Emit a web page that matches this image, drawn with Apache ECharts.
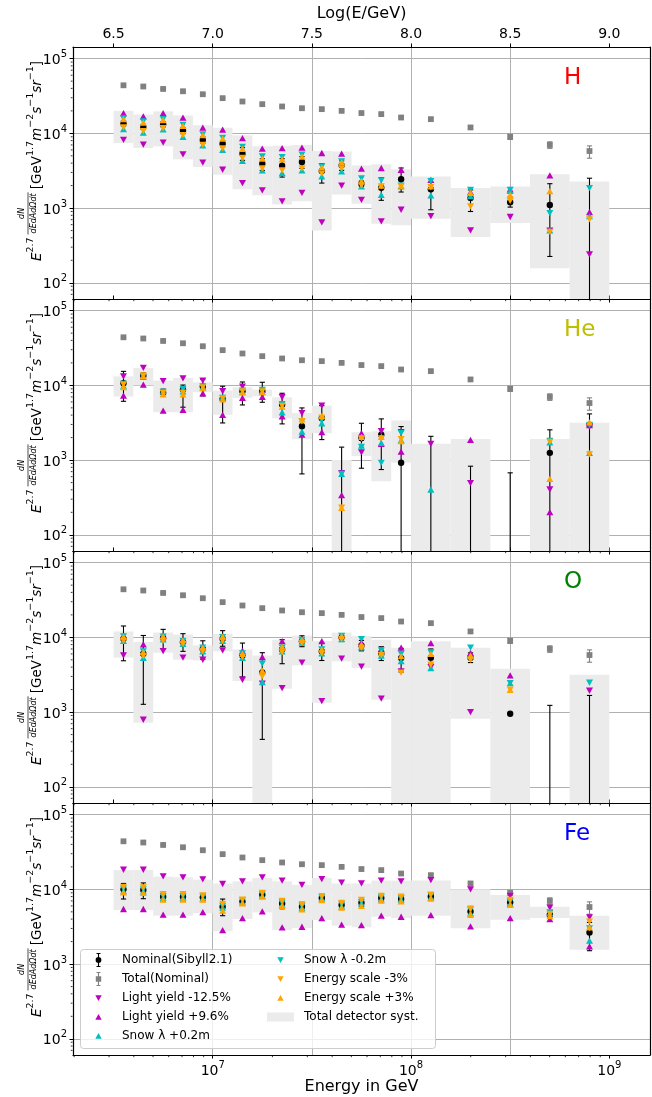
<!DOCTYPE html>
<html><head><meta charset="utf-8">
<script src="https://cdn.jsdelivr.net/npm/echarts@6/dist/echarts.min.js"></script>
<style>html,body{margin:0;padding:0;background:#fff}#c{width:652px;height:1097px}</style>
</head><body><div id="c"></div><script>
// ---------------- data ----------------
const binCenters = [6.55,6.65,6.75,6.85,6.95,7.05,7.15,7.25,7.35,7.45,7.55,7.65,7.75,7.85,7.95,8.1,8.3,8.5,8.7,8.9];
const binLo = [6.5,6.6,6.7,6.8,6.9,7.0,7.1,7.2,7.3,7.4,7.5,7.6,7.7,7.8,7.9,8.0,8.2,8.4,8.6,8.8];
const binHi = [6.6,6.7,6.8,6.9,7.0,7.1,7.2,7.3,7.4,7.5,7.6,7.7,7.8,7.9,8.0,8.2,8.4,8.6,8.8,9.0];
const topTickValues = [6.5,7.0,7.5,8.0,8.5,9.0];
const minorMultipliers = [2,3,4,5,6,7,8,9];
const minorDecadesY = [10,100,1000,10000];
const minorDecadesX = [1e6,1e7,1e8];

const total   = [44000,42400,39300,36600,33400,29600,26700,24600,22900,21700,21100,20000,18700,18100,16300,15500,12000,9000,7000,5800];
const totalLo = [43200,41600,38600,35900,32800,29100,26200,24100,22400,21200,20600,19500,18200,17600,15800,15000,11500,8300,6300,4650];
const totalHi = [44800,43200,40000,37300,34000,30100,27200,25100,23400,22200,21600,20500,19200,18600,16800,16000,12500,9700,7700,6800];

const H_nominal   = [13600,12200,13200,10900,8150,7280,5340,3930,3690,4130,3130,3730,2120,1870,2440,1780,1360,1200,1100,30];
const H_nominalLo = [12500,11300,12200,9900,7400,6600,4350,3190,2600,3400,2160,3200,1950,1270,1640,950,900,1030,225,1];
const H_nominalHi = [14800,13200,14300,11900,9000,8000,6430,4580,4580,4900,3930,4300,2300,2550,3440,2470,1750,1400,2120,2510];
const H_lyMinus   = [8200,7050,7500,5240,4050,3260,2160,1730,1230,1600,643,2000,1290,662,950,781,502,760,500,240];
const H_lyPlus    = [18700,16900,18700,16200,11900,11200,8650,6230,6360,6430,5460,5350,3370,3440,3260,2390,1640,1780,2740,880];
const H_snowPlus  = [11400,10200,11300,9000,6900,6000,4300,3200,2950,3200,2650,3100,1950,1500,1950,1480,1450,1700,502,780];
const H_snowMinus = [15800,14500,15500,13000,9700,8700,6600,4900,4800,5200,3600,4200,2500,2350,2000,2300,1750,1750,857,1850];
const H_esMinus   = [12000,10700,11700,9500,7000,6300,4700,3400,3200,3400,2900,3400,2000,1950,1950,1900,1050,1250,480,705];
const H_esPlus    = [15500,13900,15100,12600,9500,8500,6200,4600,4500,4900,3500,4100,2300,2000,2000,1950,1600,1500,1690,60];
const H_systLo    = [7400,6370,6700,4490,3540,2790,1780,1480,1120,1230,502,1520,1140,617,587,720,409,631,156,1];
const H_systHi    = [20000,17900,19700,17400,12800,11900,9400,6700,6840,6980,5800,5740,3730,3850,3300,2650,1850,1950,2830,2270];

const He_nominal   = [10700,13500,8000,8770,9620,6590,8340,8430,5530,2840,3630,30,1960,2190,919,30,30,30,1250,2960];
const He_nominalLo = [6120,12300,7100,5100,7230,3140,5470,5940,3050,653,1880,1,778,747,1,1,1,1,1,1];
const He_nominalHi = [15400,14600,8900,10100,12100,9730,11100,11000,7840,4990,5360,1490,3110,3560,2810,2080,828,675,2540,4150];
const He_lyMinus   = [13200,17100,11400,12400,11600,8340,9620,7450,6930,4240,5360,667,1270,2430,2370,1650,490,null,404,2800];
const He_lyPlus    = [7300,10200,4590,4690,7840,4030,6790,7000,3860,2190,2360,339,2290,1650,1300,null,1860,null,201,2950];
const He_snowPlus  = [9800,13000,8400,8300,9500,6900,8100,8200,4370,2410,3110,653,1560,1700,1850,404,null,null,1730,1250];
const He_snowMinus = [10500,13200,8200,8900,9700,6800,8500,8700,5600,3300,3400,653,1500,919,2300,null,null,null,1800,2950];
const He_esMinus   = [10200,13600,7900,8000,9400,6700,8300,8300,5300,3310,3700,230,1950,1950,1900,null,null,null,1750,1190];
const He_esPlus    = [9500,13300,7600,7600,9200,6500,8100,8100,5200,3500,3900,230,2050,2050,1800,null,null,null,561,3200];
const He_systLo    = [7080,10000,4370,4370,8090,4030,6790,7140,3630,1900,2290,1,1130,521,919,1,1,null,1,1];
const He_systHi    = [13200,17100,11600,12600,11000,8510,9440,8770,6930,4280,5360,1000,2360,2430,3380,1650,1920,null,1920,3150];

const O_nominal   = [9600,6040,9800,8670,6980,9600,5740,3400,6900,8840,6500,10000,7820,6040,5280,5350,5350,950,30,30];
const O_nominalLo = [4860,1270,7040,6500,5100,7600,2950,431,4440,7500,4900,8800,6600,4900,3440,4400,4600,null,1,1];
const O_nominalHi = [14200,10600,12800,11200,9000,12300,8390,6240,9310,10500,8400,11200,9100,7500,7130,7000,6200,null,1230,1670];
const O_lyMinus   = [5740,789,6560,5350,5020,6700,2710,2400,2090,4580,1400,5180,4050,1510,3500,4000,1000,null,null,1930];
const O_lyPlus    = [10500,8050,10500,9400,7600,10300,6600,5460,8930,9500,8930,10500,8500,7000,7280,8390,6200,3100,null,null];
const O_snowPlus  = [9000,5300,9400,8200,6500,9000,5300,2520,6500,8500,6100,9500,7400,5700,4800,3890,5600,2440,null,null];
const O_snowMinus = [10300,6500,10200,9000,7300,10100,6100,4440,7300,9200,6900,10500,9500,6700,6000,6300,7280,2440,null,2470];
const O_esMinus   = [8900,5600,9000,8200,6500,9000,5500,3000,6300,8400,6100,9500,7200,5800,3370,4300,5000,1990,null,null];
const O_esPlus    = [10200,6400,10300,9100,7300,10200,6000,3600,7500,9200,6900,10400,8000,6200,5600,6000,5700,1990,null,null];
const O_systLo    = [5350,719,6240,5020,4920,6500,2600,1,2060,4220,1330,4780,3890,1460,1,1,815,1,null,1];
const O_systHi    = [12000,8670,11600,10900,7820,11200,6900,5740,9310,10600,8930,11600,10400,9310,7280,8840,7280,3800,null,3160];

const Fe_nominal   = [10000,9800,7980,7980,7820,5860,6900,8490,6490,5860,7650,6170,6620,7650,7430,8050,5070,6700,4580,2650];
const Fe_nominalLo = [7430,7500,6900,6900,7100,4440,6200,7700,5500,5100,7200,5600,5900,7000,6800,7400,4300,6100,4100,1510];
const Fe_nominalHi = [12000,12200,9300,9300,8700,7420,7700,9300,7400,6700,8100,6800,7300,8300,8100,8700,5900,7300,5200,3610];
const Fe_lyMinus   = [18300,18300,14900,14500,13600,11800,12800,14500,13100,11500,13700,12300,12000,13100,12800,13300,10000,8200,5700,4220];
const Fe_lyPlus    = [5460,5460,4580,4580,4970,2850,4130,5070,3100,3160,4130,3370,3330,4440,4300,4530,3190,4130,4000,1730];
const Fe_snowPlus  = [9500,9400,7700,7700,7600,5700,6700,8200,6200,5700,7500,5900,6500,7400,7300,7800,4800,6400,4800,2060];
const Fe_snowMinus = [10200,10000,8100,8100,8000,6000,7100,8700,6600,6000,7800,6300,6800,7800,7600,8300,5300,6900,4900,3000];
const Fe_esMinus   = [10800,10600,8600,8600,8300,6400,7300,9000,7000,6300,8100,6600,7200,8200,8000,8500,5500,7200,4700,3700];
const Fe_esPlus    = [9100,9000,7300,7300,7300,5200,6500,8000,6000,5400,7200,5700,6000,7100,6900,7500,4600,6200,4400,3100];
const Fe_systLo    = [5290,5290,4440,4440,4780,2740,4010,4920,2850,3030,3880,3260,3100,4300,4130,4440,3010,3930,4130,1560];
const Fe_systHi    = [18100,18100,14800,14500,13500,12000,12800,14200,12800,11500,14200,12000,12000,13100,13100,13100,10000,8390,5860,4440];

const panelLabels = ['H','He','O','Fe'];
const panelLabelColors = ['#ff0000','#bfbf00','#008000','#0000ff'];

const N_NOM = 'Nominal(Sibyll2.1)', N_TOT = 'Total(Nominal)', N_LYM = 'Light yield -12.5%', N_LYP = 'Light yield +9.6%',
      N_SNP = 'Snow λ +0.2m', N_SNM = 'Snow λ -0.2m', N_ESM = 'Energy scale -3%', N_ESP = 'Energy scale +3%', N_SYS = 'Total detector syst.';

// ---------------- layout/style ----------------
const FONT = 'DejaVu Sans';
const MAGENTA = '#bf00bf', CYAN = '#00bfbf', ORANGE = '#ffa500', GRAY = '#808080', BOXC = '#ebebeb';
const X_MIN_LOG = 6.2954, X_MAX_LOG = 9.2051;
const X_MIN = Math.pow(10, X_MIN_LOG), X_MAX = Math.pow(10, X_MAX_LOG);
const Y_MIN = Math.pow(10, 1.783), Y_MAX = Math.pow(10, 5.156);
const GRID_LEFT = 73, GRID_W = 577, GRID_H = 252, GRID_TOPS = [47, 299, 551, 803];

const panels = [
  {nominal:H_nominal, nominalLo:H_nominalLo, nominalHi:H_nominalHi, lyMinus:H_lyMinus, lyPlus:H_lyPlus, snowPlus:H_snowPlus, snowMinus:H_snowMinus, esMinus:H_esMinus, esPlus:H_esPlus, systLo:H_systLo, systHi:H_systHi},
  {nominal:He_nominal, nominalLo:He_nominalLo, nominalHi:He_nominalHi, lyMinus:He_lyMinus, lyPlus:He_lyPlus, snowPlus:He_snowPlus, snowMinus:He_snowMinus, esMinus:He_esMinus, esPlus:He_esPlus, systLo:He_systLo, systHi:He_systHi},
  {nominal:O_nominal, nominalLo:O_nominalLo, nominalHi:O_nominalHi, lyMinus:O_lyMinus, lyPlus:O_lyPlus, snowPlus:O_snowPlus, snowMinus:O_snowMinus, esMinus:O_esMinus, esPlus:O_esPlus, systLo:O_systLo, systHi:O_systHi},
  {nominal:Fe_nominal, nominalLo:Fe_nominalLo, nominalHi:Fe_nominalHi, lyMinus:Fe_lyMinus, lyPlus:Fe_lyPlus, snowPlus:Fe_snowPlus, snowMinus:Fe_snowMinus, esMinus:Fe_esMinus, esPlus:Fe_esPlus, systLo:Fe_systLo, systHi:Fe_systHi}
];

const minorY = [];
minorDecadesY.forEach(d => minorMultipliers.forEach(m => { const v = d*m; if (v > Y_MIN && v < Y_MAX) minorY.push(v); }));
const minorX = [];
minorDecadesX.forEach(d => minorMultipliers.forEach(m => { const v = d*m; if (v > X_MIN && v < X_MAX) minorX.push(v); }));

function powLabel(v) {
  const e = Math.log10(v), r = Math.round(e);
  if (Math.abs(e - r) > 1e-6) return '';
  return '{b|10}{s|' + r + '}';
}
const powRich = {
  b: {fontSize: 14, fontFamily: FONT, color: '#000', lineHeight: 18, verticalAlign: 'bottom'},
  s: {fontSize: 10, fontFamily: FONT, color: '#000', lineHeight: 18, verticalAlign: 'top'}
};

// ---------------- series ----------------
function E(c) { return Math.pow(10, c); }

function systSeries(gi, lo, hi) {
  const data = binCenters.map((c, k) => [E(binLo[k]), E(binHi[k]), lo[k], hi[k]]).filter(d => d[2] != null && d[3] != null);
  return {
    type: 'custom', name: N_SYS, xAxisIndex: 2*gi, yAxisIndex: 2*gi, clip: true, silent: true,
    itemStyle: {color: BOXC}, dimensions: ['x0','x1','y0','y1'], encode: {x: [0,1], y: [2,3]}, data,
    renderItem: function (params, api) {
      const a = api.coord([api.value(0), api.value(3)]);
      const b = api.coord([api.value(1), api.value(2)]);
      return {type: 'rect', shape: {x: a[0], y: a[1], width: b[0]-a[0], height: b[1]-a[1]}, style: {fill: BOXC}};
    }
  };
}

function errorBarSeries(name, gi, color, marker, vals, lo, hi) {
  const data = binCenters.map((c, k) => [E(c), vals[k], lo[k], hi[k]]).filter(d => d[1] != null);
  return {
    type: 'custom', name, xAxisIndex: 2*gi, yAxisIndex: 2*gi, clip: true, silent: true,
    itemStyle: {color}, dimensions: ['x','y','lo','hi'], encode: {x: 0, y: 1}, data,
    renderItem: function (params, api) {
      const x = api.value(0), y = api.value(1), l = api.value(2), h = api.value(3);
      const p = api.coord([x, y]);
      const ch = [];
      const ls = {stroke: color, lineWidth: 1.1};
      if (l > 0 && h > 0) {
        const pl = api.coord([x, l]), ph = api.coord([x, h]);
        ch.push({type: 'line', shape: {x1: p[0], y1: pl[1], x2: p[0], y2: ph[1]}, style: ls});
        ch.push({type: 'line', shape: {x1: p[0]-2.6, y1: pl[1], x2: p[0]+2.6, y2: pl[1]}, style: ls});
        ch.push({type: 'line', shape: {x1: p[0]-2.6, y1: ph[1], x2: p[0]+2.6, y2: ph[1]}, style: ls});
      }
      if (marker === 'circle') ch.push({type: 'circle', shape: {cx: p[0], cy: p[1], r: 3.2}, style: {fill: color}});
      else ch.push({type: 'rect', shape: {x: p[0]-2.9, y: p[1]-2.9, width: 5.8, height: 5.8}, style: {fill: color}});
      return {type: 'group', children: ch};
    }
  };
}

function markerSeries(name, gi, color, vals, down) {
  return {
    type: 'scatter', name, xAxisIndex: 2*gi, yAxisIndex: 2*gi, clip: true, silent: true,
    symbol: 'triangle', symbolSize: [7, 6.3], symbolRotate: down ? 180 : 0,
    itemStyle: {color, opacity: 1}, emphasis: {disabled: true},
    data: binCenters.map((c, k) => [E(c), vals[k]]).filter(d => d[1] != null)
  };
}

// minor ticks of the log axes, placed through the axes' own scale
function minorTickSeries(gi) {
  const data = minorY.map(v => [X_MIN, v, 0]).concat(minorX.map(v => [v, Y_MIN, 1]));
  return {
    type: 'custom', name: 'minor', xAxisIndex: 2*gi, yAxisIndex: 2*gi, clip: false, silent: true, z: 3,
    dimensions: ['x','y','k'], encode: {x: 0, y: 1}, data,
    renderItem: function (params, api) {
      const p = api.coord([api.value(0), api.value(1)]);
      if (api.value(2) === 0) return {type: 'line', shape: {x1: p[0]-2.2, y1: p[1], x2: p[0]-0.5, y2: p[1]}, style: {stroke: '#000', lineWidth: 0.8}};
      return {type: 'line', shape: {x1: p[0], y1: p[1]+0.5, x2: p[0], y2: p[1]+2.2}, style: {stroke: '#000', lineWidth: 0.8}};
    }
  };
}

const grids = [], xAxes = [], yAxes = [], series = [];
panels.forEach((P, gi) => {
  grids.push({left: GRID_LEFT, top: GRID_TOPS[gi], width: GRID_W, height: GRID_H, containLabel: false});
  xAxes.push({
    type: 'log', gridIndex: gi, position: 'bottom', min: X_MIN, max: X_MAX,
    axisLine: {show: true, onZero: false, lineStyle: {color: '#000', width: 1.2}},
    axisTick: {show: true, inside: false, length: 3.5, lineStyle: {color: '#000', width: 1}},
    axisLabel: {show: gi === 3, formatter: powLabel, rich: powRich, margin: 5, showMinLabel: false, showMaxLabel: false},
    splitLine: {show: false},
    name: gi === 3 ? 'Energy in GeV' : '', nameLocation: 'middle', nameGap: 24,
    nameTextStyle: {fontSize: 16, fontFamily: FONT, color: '#000'}
  });
  xAxes.push({
    type: 'value', gridIndex: gi, position: 'top', min: X_MIN_LOG, max: X_MAX_LOG, splitNumber: 6,
    axisLine: {show: true, onZero: false, lineStyle: {color: '#000', width: 1.2}},
    axisTick: {show: true, length: 3.5, customValues: topTickValues, lineStyle: {color: '#000', width: 1}},
    axisLabel: {show: gi === 0, customValues: topTickValues, formatter: v => v.toFixed(1), fontSize: 14, fontFamily: FONT, color: '#000', margin: 6},
    splitLine: {show: true, showMinLine: false, showMaxLine: false, lineStyle: {color: '#b0b0b0', width: 1}},
    name: gi === 0 ? 'Log(E/GeV)' : '', nameLocation: 'middle', nameGap: 25,
    nameTextStyle: {fontSize: 16, fontFamily: FONT, color: '#000'}
  });
  yAxes.push({
    type: 'log', gridIndex: gi, position: 'left', min: Y_MIN, max: Y_MAX,
    axisLine: {show: true, onZero: false, lineStyle: {color: '#000', width: 1.2}},
    axisTick: {show: true, length: 3.5, lineStyle: {color: '#000', width: 1}},
    axisLabel: {formatter: powLabel, rich: powRich, margin: 6, showMinLabel: false, showMaxLabel: false},
    splitLine: {show: true, showMinLine: false, showMaxLine: false, lineStyle: {color: '#b0b0b0', width: 1}}
  });
  yAxes.push({
    type: 'log', gridIndex: gi, position: 'right', min: Y_MIN, max: Y_MAX,
    axisLine: {show: true, onZero: false, lineStyle: {color: '#000', width: 1.2}},
    axisTick: {show: false}, axisLabel: {show: false}, splitLine: {show: false}
  });

  series.push(systSeries(gi, P.systLo, P.systHi));
  series.push(errorBarSeries(N_TOT, gi, GRAY, 'square', total, totalLo, totalHi));
  series.push(markerSeries(N_LYM, gi, MAGENTA, P.lyMinus, true));
  series.push(markerSeries(N_LYP, gi, MAGENTA, P.lyPlus, false));
  series.push(markerSeries(N_SNP, gi, CYAN, P.snowPlus, false));
  series.push(markerSeries(N_SNM, gi, CYAN, P.snowMinus, true));
  series.push(markerSeries(N_ESM, gi, ORANGE, P.esMinus, true));
  series.push(markerSeries(N_ESP, gi, ORANGE, P.esPlus, false));
  series.push(errorBarSeries(N_NOM, gi, '#000', 'circle', P.nominal, P.nominalLo, P.nominalHi));
  series.push(minorTickSeries(gi));
});

// ---------------- legend ----------------
const BB = 'path://M0,0L0,0ZM32,14L32,14Z';
const ICON_NOM = BB + 'M12.95,0.5h1.1v13h-1.1zM11.5,0h4v1.1h-4zM11.5,12.9h4v1.1h-4zM10.6,7a2.9,2.9 0 1,1 5.8,0a2.9,2.9 0 1,1 -5.8,0z';
const ICON_TOT = BB + 'M12.95,0.5h1.1v13h-1.1zM11.5,0h4v1.1h-4zM11.5,12.9h4v1.1h-4zM10.8,4.3h5.4v5.4h-5.4z';
const ICON_DOWN = BB + 'M10.3,4.3h6.4l-3.2,5.6z';
const ICON_UP = BB + 'M13.5,4.1l3.2,5.6h-6.4z';
const ICON_BOX = BB + 'M0,2.5h27v9h-27z';
const legendCommon = {
  orient: 'vertical', itemWidth: 32, itemHeight: 14, itemGap: 5, padding: 0, selectedMode: false,
  symbolRotate: 0, textStyle: {fontSize: 12, fontFamily: FONT, color: '#000'}, z: 6
};
const legends = [
  Object.assign({left: 85, top: 953, data: [
    {name: N_NOM, icon: ICON_NOM}, {name: N_TOT, icon: ICON_TOT}, {name: N_LYM, icon: ICON_DOWN},
    {name: N_LYP, icon: ICON_UP}, {name: N_SNP, icon: ICON_UP}]}, legendCommon),
  Object.assign({left: 267, top: 953, data: [
    {name: N_SNM, icon: ICON_DOWN}, {name: N_ESM, icon: ICON_DOWN}, {name: N_ESP, icon: ICON_UP},
    {name: N_SYS, icon: ICON_BOX}]}, legendCommon)
];

// ---------------- y-axis titles & panel labels ----------------
const mctx = document.createElement('canvas').getContext('2d');
function tw(t, size, italic) { mctx.font = (italic ? 'italic ' : '') + size + 'px "DejaVu Sans"'; return mctx.measureText(t).width; }
const MAIN = 13.5, SUP = 9.5, FR = 8;
const richY = {
  n: {fontSize: MAIN, fontFamily: FONT, fill: '#000', lineHeight: 19, verticalAlign: 'bottom'},
  i: {fontSize: MAIN, fontFamily: FONT, fontStyle: 'italic', fill: '#000', lineHeight: 19, verticalAlign: 'bottom'},
  s: {fontSize: SUP, fontFamily: FONT, fill: '#000', lineHeight: 19, verticalAlign: 'top'}
};
const ePartTokens = [['i','E'],['s','2.7']];
const bPartTokens = [['n','[GeV'],['s','1.7'],['i','m'],['s','−2'],['i','s'],['s','−1'],['i','sr'],['s','−1'],['n',']']];
function partWidth(tokens) { return tokens.reduce((a, t) => a + tw(t[1], t[0] === 's' ? SUP : MAIN, t[0] === 'i'), 0); }
function partText(tokens) { return tokens.map(t => '{' + t[0] + '|' + t[1] + '}').join(''); }
const wE = partWidth(ePartTokens), wB = partWidth(bPartTokens);
const wF = Math.max(tw('dEdAdΩdt', FR, true), tw('dN', FR, true)) + 2;
const GAP = 3;
const wTot = wE + GAP + wF + GAP + wB;

const graphics = [];
GRID_TOPS.forEach((top, gi) => {
  const cy = top + GRID_H / 2 - 12;
  const x0 = -wTot / 2;
  const xf = x0 + wE + GAP + wF / 2;
  graphics.push({
    type: 'group', x: 35, y: cy, rotation: Math.PI / 2, silent: true, z: 10,
    children: [
      {type: 'text', x: x0, y: 0, style: {text: partText(ePartTokens), rich: richY, align: 'left', verticalAlign: 'middle'}},
      {type: 'text', x: xf, y: -9.5, style: {text: 'dN', fontSize: FR, fontFamily: FONT, fontStyle: 'italic', fill: '#000', align: 'center', verticalAlign: 'bottom'}},
      {type: 'line', shape: {x1: xf - wF/2, y1: -7, x2: xf + wF/2, y2: -7}, style: {stroke: '#000', lineWidth: 0.7}},
      {type: 'text', x: xf, y: -5.5, style: {text: 'dEdAdΩdt', fontSize: FR, fontFamily: FONT, fontStyle: 'italic', fill: '#000', align: 'center', verticalAlign: 'top'}},
      {type: 'text', x: x0 + wE + GAP + wF + GAP, y: 0, style: {text: partText(bPartTokens), rich: richY, align: 'left', verticalAlign: 'middle'}}
    ]
  });
  graphics.push({
    type: 'text', left: 564, top: top + 20, z: 10, silent: true,
    style: {text: panelLabels[gi], fontSize: 23, fontFamily: FONT, fill: panelLabelColors[gi]}
  });
});
graphics.push({
  type: 'rect', shape: {x: 80.5, y: 949.5, width: 355, height: 99, r: 3}, z: 5, silent: true,
  style: {fill: 'rgba(255,255,255,0.8)', stroke: '#cccccc', lineWidth: 1}
});

const chart = echarts.init(document.getElementById('c'), null, {renderer: 'canvas'});
chart.setOption({
  backgroundColor: '#fff',
  animation: false,
  textStyle: {fontFamily: FONT},
  grid: grids, xAxis: xAxes, yAxis: yAxes, series,
  legend: legends,
  graphic: graphics
});
</script></body></html>
